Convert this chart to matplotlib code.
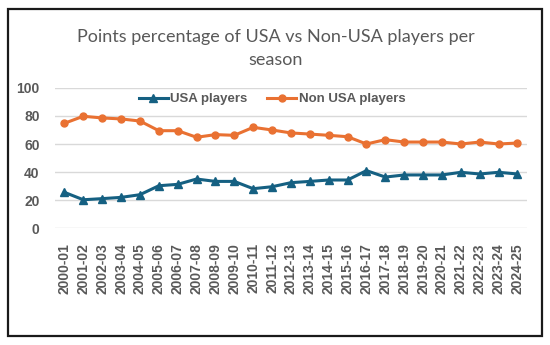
import matplotlib.pyplot as plt
from matplotlib.patches import Rectangle

seasons = ['2000-01', '2001-02', '2002-03', '2003-04', '2004-05', '2005-06',
           '2006-07', '2007-08', '2008-09', '2009-10', '2010-11', '2011-12',
           '2012-13', '2013-14', '2014-15', '2015-16', '2016-17', '2017-18',
           '2018-19', '2019-20', '2020-21', '2021-22', '2022-23', '2023-24',
           '2024-25']
usa_pct = [25.5, 20.2, 21.0, 21.9, 23.8, 30.2, 31.2, 35.0, 33.3, 33.3, 28.1, 29.5,
           32.4, 33.3, 34.3, 34.3, 41.0, 36.4, 37.9, 37.9, 37.9, 39.8, 38.6, 39.8,
           38.6]
non_usa_pct = [74.8, 79.8, 78.6, 77.9, 76.4, 69.5, 69.5, 64.8, 66.7, 66.2, 71.9, 70.0,
               67.9, 67.1, 66.2, 65.2, 60.0, 63.1, 61.4, 61.4, 61.4, 60.0, 61.4, 60.0,
               60.7]
y_ticks = [0, 20, 40, 60, 80, 100]

grey = '#595959'
blue = '#156082'
orange = '#E97132'

plt.rcParams['font.family'] = ['Liberation Sans', 'DejaVu Sans']

fig = plt.figure(figsize=(5.5, 3.45), dpi=100)
ax = fig.add_axes([0.1, 0.339, 0.858, 0.406])

x = range(len(seasons))
ax.plot(x, usa_pct, color=blue, lw=2.2, marker='^', ms=5.5, label='USA players')
ax.plot(x, non_usa_pct, color=orange, lw=2.2, marker='o', ms=5, label='Non USA players')

ax.set_xlim(-0.5, len(seasons) - 0.5)
ax.set_ylim(0, 100)
ax.set_yticks(y_ticks)
ax.set_xticks(list(x))
ax.set_xticklabels(seasons, rotation=90)
ax.tick_params(axis='both', length=0, colors=grey, labelsize=10)
ax.tick_params(axis='y', pad=11)
ax.tick_params(axis='x', pad=11)
for lbl in ax.get_xticklabels() + ax.get_yticklabels():
    lbl.set_fontweight('bold')
ax.grid(axis='y', color='#D9D9D9', lw=1)
ax.set_axisbelow(True)
for s in ax.spines.values():
    s.set_visible(False)

leg = ax.legend(loc='center', bbox_to_anchor=(272 / 550, 1 - 99 / 345),
                bbox_transform=fig.transFigure, ncol=2, frameon=False,
                handlelength=2.2, columnspacing=1.5, handletextpad=0.2,
                prop={'weight': 'bold', 'size': 9.5})
for t in leg.get_texts():
    t.set_color(grey)

fig.text(276 / 550, 1 - 48.5 / 345, 'Points percentage of USA vs Non-USA players per\nseason',
         ha='center', va='center', fontsize=13, color=grey, family='Lato',
         linespacing=1.6)

fig.patches.append(Rectangle((8 / 550, 1 - 336 / 345), 534 / 550, 327 / 345,
                             transform=fig.transFigure, fill=False,
                             edgecolor='#1a1a1a', lw=1.6))

fig.savefig('out.png', dpi=100)
